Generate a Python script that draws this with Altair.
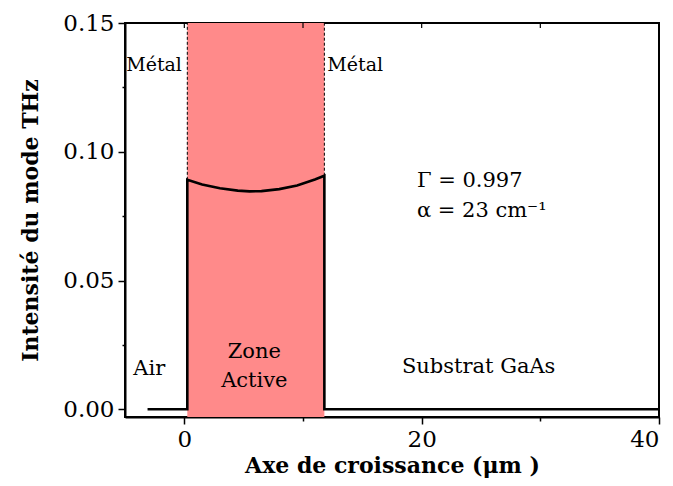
import altair as alt
import pandas as pd

# Mode intensity profile (x in µm, intensity)
line_x = [-3.1, 0.25, 0.25, 1.5, 3.0, 4.5, 5.5, 6.5, 8.0, 9.5, 11.0, 11.8, 11.8, 40.0]
line_y = [0.0, 0.0, 0.0891, 0.0873, 0.0858, 0.0849, 0.0846, 0.0847, 0.0855, 0.0869, 0.0892, 0.0907, 0.0, 0.0]

# Active zone limits (metal layers)
zone_start = 0.25
zone_end = 11.8
metal_x = [0.25, 11.8]
metal_top = [0.0891, 0.0907]

x_ticks = [0, 10, 20, 30, 40]
y_ticks = [0.0, 0.025, 0.05, 0.075, 0.1, 0.125, 0.15]

metal_labels = ["Métal", "Métal"]
metal_label_x = [-2.55, 14.4]
metal_label_y = [0.1337, 0.1337]

labels = ["Air", "Zone", "Active", "Substrat GaAs"]
label_x = [-2.95, 5.9, 5.9, 24.8]
label_y = [0.0155, 0.0221, 0.0109, 0.0163]

info = ["Γ = 0.997", "α = 23 cm⁻¹"]
info_x = [19.6, 19.6]
info_y = [0.0885, 0.0770]

XMIN, XMAX = -5, 40
YMIN, YMAX = -0.003, 0.15
FONT = "DejaVu Serif"

line_df = pd.DataFrame({"x": line_x, "y": line_y, "i": list(range(len(line_x)))})
zone_df = pd.DataFrame({"x": [zone_start], "x2": [zone_end], "y": [YMIN], "y2": [YMAX]})
metal_df = pd.DataFrame({"x": metal_x, "y": metal_top, "y2": [YMAX, YMAX]})
mlab_df = pd.DataFrame({"t": metal_labels, "x": metal_label_x, "y": metal_label_y})
lab_df = pd.DataFrame({"t": labels, "x": label_x, "y": label_y})
info_df = pd.DataFrame({"t": info, "x": info_x, "y": info_y})
top_df = pd.DataFrame({"x": x_ticks})

xscale = alt.Scale(domain=[XMIN, XMAX], nice=False, zero=False)
yscale = alt.Scale(domain=[YMIN, YMAX], nice=False, zero=False)

xaxis = alt.Axis(
    title="Axe de croissance (μm )",
    values=x_ticks,
    labelExpr="datum.value % 20 === 0 ? datum.label : ''",
    tickSize={"condition": {"test": "datum.value % 20 === 0", "value": 7}, "value": 4},
    grid=False,
    labelFlush=True,
    titlePadding=4,
)
yaxis = alt.Axis(
    title="Intensité du mode THz",
    values=y_ticks,
    format=".2f",
    labelExpr="(datum.value*1000) % 50 < 1 ? datum.label : ''",
    tickSize={"condition": {"test": "(datum.value*1000) % 50 < 1", "value": 7}, "value": 3},
    grid=False,
    titlePadding=20,
)

zone = alt.Chart(zone_df).mark_rect(color="#ff8a8a").encode(
    x=alt.X("x:Q", scale=xscale, axis=xaxis),
    x2="x2:Q",
    y=alt.Y("y:Q", scale=yscale, axis=yaxis),
    y2="y2:Q",
)

metal = alt.Chart(metal_df).mark_rule(color="black", strokeWidth=1, strokeDash=[3, 2]).encode(
    x="x:Q", y="y:Q", y2="y2:Q"
)

top_ticks = alt.Chart(top_df).mark_rule(color="black", strokeWidth=1.2).encode(
    x="x:Q", y=alt.value(0), y2=alt.value(5)
)

line = alt.Chart(line_df).mark_line(color="black", strokeWidth=2.6, strokeJoin="miter").encode(
    x="x:Q", y="y:Q", order="i:Q"
)

mlab = alt.Chart(mlab_df).mark_text(font=FONT, fontSize=19, color="black").encode(
    x="x:Q", y="y:Q", text="t:N"
)

lab = alt.Chart(lab_df).mark_text(font=FONT, fontSize=21, color="black").encode(
    x="x:Q", y="y:Q", text="t:N"
)

inf = alt.Chart(info_df).mark_text(font=FONT, fontSize=21, color="black", align="left").encode(
    x="x:Q", y="y:Q", text="t:N"
)

chart = alt.layer(zone, metal, line, top_ticks, mlab, lab, inf).properties(
    width=534,
    height=394,
    autosize=alt.AutoSizeParams(type="none"),
    padding={"left": 117, "top": 15, "right": 6, "bottom": 61},
).configure_view(
    stroke="black", strokeWidth=2
).configure_axis(
    domainColor="black",
    domainWidth=2,
    tickColor="black",
    tickWidth=1.5,
    labelFont=FONT,
    labelFontSize=23,
    labelColor="black",
    labelPadding=4,
    titleFont=FONT,
    titleFontSize=22,
    titleFontWeight="bold",
    titleColor="black",
)

chart.save("out.html", embed_options={"renderer": "svg", "actions": False})
